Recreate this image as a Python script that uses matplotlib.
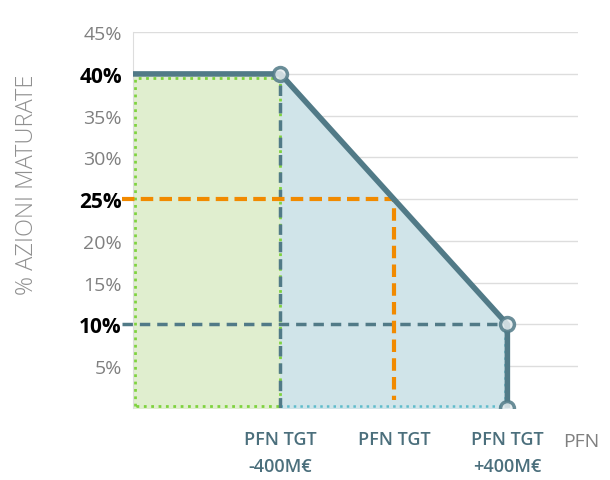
import numpy as np
import matplotlib
matplotlib.use("Agg")
from matplotlib import pyplot as plt

plt.rcParams['font.family'] = ['Open Sans', 'DejaVu Sans']

# data (x in M€ relative to target PFN, y in %)
curve_x = [-920, -400, 400, 400]
curve_y = [40, 40, 10, 0]
marker_x = [-400, 400, 400]
marker_y = [40, 10, 0]
yticks = [5, 10, 15, 20, 25, 30, 35, 40, 45]
bold_ticks = [10, 25, 40]
xticks = [-400, 0, 400]
xlabels = ['PFN TGT\n-400M€', 'PFN TGT', 'PFN TGT\n+400M€']
target_x, target_y = 0, 25

line_col = '#517a87'
orange = '#f18a00'
green_fill = '#e0eecf'
blue_fill = '#d0e4e9'

fig = plt.figure(figsize=(6.1, 4.81), dpi=100)
ax = fig.add_axes([0.218, 0.150, 0.730, 0.781])
ax.set_xlim(-920, 650)
ax.set_ylim(0, 45)

for t in yticks:
    ax.axhline(t, color='#dddddd', lw=1, zorder=0)

# filled regions
ax.fill_between([-920, -400], 0, 40, color=green_fill, zorder=1)
ax.fill_between([-400, 400], [40, 10], 0, color=blue_fill, zorder=1)
ax.plot([-912, -912, -400, -400, -912], [0.2, 39.5, 39.5, 0.2, 0.2], ls=':', color='#7fd33f', lw=2, zorder=2)
ax.plot([-400, 392, 392], [0.2, 0.2, 10], ls=':', color='#5fbccb', lw=1.8, zorder=2)

# reference dashes
ax.plot([-400, -400], [0, 40], ls='--', color=line_col, lw=2.5, dashes=(3, 2), zorder=3)
ax.plot([-960, 400], [10, 10], ls='--', color=line_col, lw=2.5, dashes=(3, 2), zorder=3, clip_on=False)
ax.plot([-960, target_x, target_x], [target_y, target_y, 1], ls='--', color=orange,
        lw=3, dashes=(3, 1.5), zorder=4, clip_on=False)

ax.plot(curve_x, curve_y, color=line_col, lw=4, zorder=5, solid_capstyle='butt')
ax.plot(marker_x, marker_y, 'o', ms=10, mfc='#e4ecee', mec=line_col, mew=2.5, zorder=6, alpha=0.85)

for s in ['top', 'right', 'bottom']:
    ax.spines[s].set_visible(False)
ax.spines['left'].set_color('#dddddd')

ax.set_yticks(yticks)
ax.set_yticklabels([f'{t}%' for t in yticks], fontsize=14, color='#808080')
for lab, t in zip(ax.get_yticklabels(), yticks):
    if t in bold_ticks:
        lab.set_color('black')
        lab.set_fontweight('bold')
        lab.set_fontsize(15)
ax.tick_params(axis='y', length=0, pad=8)

ax.set_xticks(xticks)
ax.set_xticklabels(xlabels, fontsize=13, color='#4b6f7c', linespacing=1.65, fontweight='semibold')
ax.tick_params(axis='x', length=0, pad=16)

ax.text(0.966, -0.088, 'PFN', transform=ax.transAxes, fontsize=14, color='#808080',
        ha='left', va='center')
fig.text(0.045, 0.615, '% AZIONI MATURATE', rotation=90, fontsize=17, color='#909090',
         ha='center', va='center', fontweight='light')

fig.savefig('out.png', dpi=100)
